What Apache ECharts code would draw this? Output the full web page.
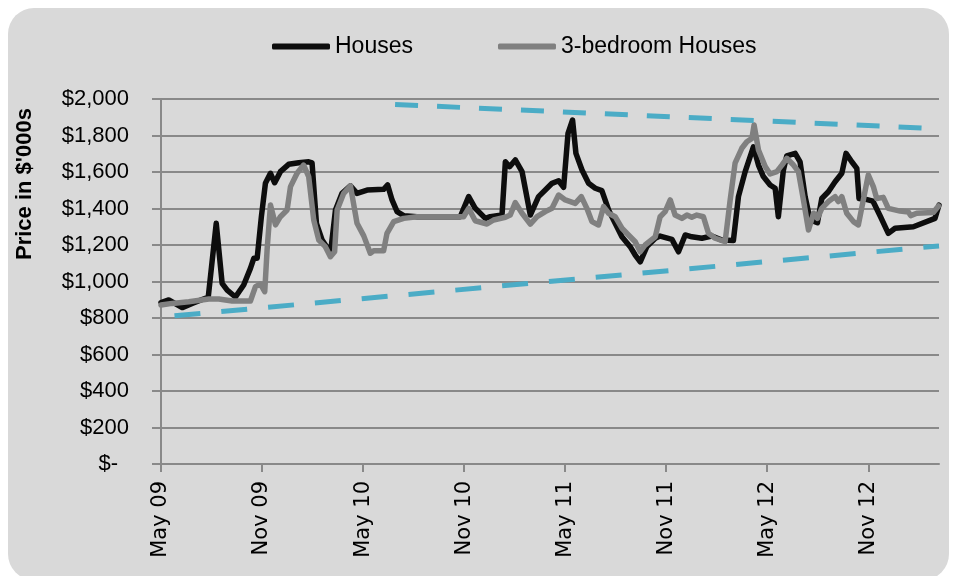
<!DOCTYPE html>
<html>
<head>
<meta charset="utf-8">
<script src="https://cdn.jsdelivr.net/npm/echarts@6/dist/echarts.min.js"></script>
<style>
  html, body { margin: 0; padding: 0; background: #fff; overflow: hidden; }
  #box { position: absolute; left: 8px; top: 8px; width: 941px; height: 572px; background: #d9d9d9; border-radius: 26px; }
  #chart { position: absolute; left: 0; top: 0; width: 957px; height: 576px; }
</style>
</head>
<body>
<div id="box"></div>
<div id="chart"></div>
<script>
// x values are months since May 2009
const tickMonths = [0, 6, 12, 18, 24, 30, 36, 42]
const tickLabels = ['May 09', 'Nov 09', 'May 10', 'Nov 10', 'May 11', 'Nov 11', 'May 12', 'Nov 12']

const housesMonth = [0, 0.46, 1.26, 1.85, 2.64, 2.80, 3.28, 3.63, 3.93, 4.42, 4.91, 5.31, 5.51, 5.71, 5.96, 6.20, 6.50, 6.75, 7.09, 7.58, 8.18, 8.77, 8.97, 9.23, 9.57, 9.96, 10.06, 10.36, 10.75, 11.25, 11.64, 12.24, 13.22, 13.46, 13.72, 14.02, 14.41, 15.20, 17.77, 18.27, 18.66, 19.26, 19.55, 20.25, 20.45, 20.70, 21.04, 21.44, 21.93, 22.42, 22.82, 23.22, 23.61, 23.91, 24.17, 24.44, 24.64, 25.00, 25.39, 25.79, 26.18, 26.58, 26.97, 27.37, 27.86, 28.16, 28.46, 28.85, 29.35, 29.64, 30.34, 30.73, 31.13, 31.52, 32.12, 32.71, 33.31, 33.99, 34.29, 34.69, 35.18, 35.48, 35.77, 36.17, 36.47, 36.66, 36.96, 37.16, 37.66, 37.95, 38.25, 38.55, 38.98, 39.24, 39.63, 40.03, 40.43, 40.68, 41.02, 41.32, 41.45, 41.87, 42.28, 42.70, 43.19, 43.59, 44.68, 45.96, 46.2]
const housesPrice = [885, 899, 857, 880, 908, 910, 1319, 990, 953, 915, 981, 1072, 1127, 1127, 1355, 1538, 1593, 1541, 1602, 1642, 1651, 1656, 1650, 1319, 1227, 1173, 1150, 1392, 1483, 1524, 1483, 1501, 1505, 1529, 1447, 1383, 1361, 1355, 1355, 1465, 1401, 1346, 1355, 1364, 1656, 1629, 1666, 1602, 1364, 1465, 1501, 1538, 1552, 1516, 1812, 1885, 1702, 1611, 1538, 1511, 1498, 1392, 1319, 1245, 1191, 1145, 1108, 1191, 1237, 1249, 1231, 1163, 1255, 1245, 1237, 1249, 1227, 1224, 1465, 1602, 1738, 1638, 1575, 1529, 1511, 1355, 1611, 1688, 1702, 1656, 1465, 1337, 1322, 1455, 1492, 1547, 1593, 1702, 1656, 1620, 1455, 1450, 1440, 1360, 1264, 1292, 1300, 1346, 1419]

const threeBedMonth = [0, 0.66, 1.65, 2.84, 3.43, 4.23, 5.31, 5.61, 5.91, 6.16, 6.30, 6.50, 6.80, 7.09, 7.49, 7.69, 8.08, 8.47, 8.77, 9.07, 9.37, 9.76, 10.06, 10.31, 10.46, 10.85, 11.25, 11.64, 12.04, 12.43, 12.63, 13.22, 13.42, 13.82, 14.41, 15.20, 17.97, 18.27, 18.66, 19.36, 19.75, 20.45, 20.74, 21.04, 21.44, 21.93, 22.33, 22.82, 23.22, 23.61, 24.01, 24.60, 24.96, 25.29, 25.59, 25.98, 26.28, 26.58, 26.97, 27.37, 27.76, 28.16, 28.46, 28.75, 29.35, 29.64, 29.94, 30.24, 30.53, 30.93, 31.23, 31.52, 31.82, 32.21, 32.51, 32.91, 33.50, 33.80, 34.09, 34.49, 34.79, 35.09, 35.22, 35.48, 35.88, 36.17, 36.57, 36.87, 37.16, 37.56, 37.85, 38.15, 38.45, 38.75, 38.98, 39.24, 39.63, 40.03, 40.22, 40.43, 40.72, 41.12, 41.41, 42.00, 42.30, 42.50, 42.89, 43.19, 43.89, 44.38, 44.52, 44.88, 45.86, 46.17]
const threeBedPrice = [871, 880, 889, 904, 904, 893, 893, 972, 986, 944, 1173, 1419, 1310, 1355, 1392, 1520, 1593, 1638, 1575, 1337, 1227, 1191, 1136, 1163, 1392, 1483, 1524, 1319, 1250, 1155, 1168, 1168, 1264, 1328, 1346, 1355, 1355, 1401, 1333, 1315, 1337, 1352, 1364, 1432, 1374, 1315, 1355, 1383, 1401, 1474, 1447, 1428, 1465, 1401, 1328, 1310, 1410, 1374, 1355, 1292, 1255, 1218, 1163, 1200, 1245, 1355, 1383, 1447, 1364, 1346, 1364, 1352, 1364, 1355, 1264, 1237, 1218, 1447, 1648, 1730, 1766, 1784, 1858, 1721, 1630, 1589, 1602, 1638, 1675, 1638, 1602, 1447, 1282, 1374, 1346, 1401, 1438, 1465, 1438, 1465, 1374, 1328, 1310, 1584, 1520, 1455, 1461, 1401, 1386, 1381, 1361, 1374, 1378, 1414]

// dashed trend lines (start / end)
const lowerTrendMonth = [0.8, 46.2]
const lowerTrendPrice = [812, 1195]
const upperTrendMonth = [13.9, 46.2]
const upperTrendPrice = [1970, 1837]

const zip = (xs, ys) => xs.map((x, i) => [x, ys[i]])

const myChart = echarts.init(document.getElementById('chart'))

const option = {
  backgroundColor: 'transparent',
  animation: false,
  legend: {
    left: 272,
    top: 35,
    padding: 0,
    itemWidth: 58,
    itemHeight: 6,
    itemGap: 85,
    icon: 'roundRect',
    data: ['Houses', '3-bedroom Houses'],
    textStyle: { fontFamily: 'Liberation Sans', fontSize: 23, color: '#000' },
  },
  grid: { left: 161, right: 18, top: 99, bottom: 112 },
  graphic: [
    {
      type: 'text',
      left: 14,
      top: 108,
      rotation: Math.PI / 2,
      style: {
        text: "Price in $'000s",
        font: 'bold 22px "Liberation Sans"',
        fill: '#000',
      },
    },
  ],
  xAxis: {
    type: 'value',
    min: 0,
    max: 46.2,
    splitLine: { show: false },
    axisLine: { lineStyle: { color: '#898989', width: 2 } },
    axisTick: { customValues: tickMonths, length: 8, lineStyle: { color: '#898989', width: 2 } },
    axisLabel: {
      customValues: tickMonths,
      rotate: 90,
      margin: 17,
      fontFamily: 'DejaVu Sans',
      fontSize: 21,
      color: '#000',
      formatter: (v) => tickLabels[tickMonths.indexOf(Math.round(v))] || '',
    },
  },
  yAxis: {
    type: 'value',
    min: 0,
    max: 2000,
    interval: 200,
    axisLine: { show: true, lineStyle: { color: '#898989', width: 2 } },
    axisTick: { show: true, length: 9, lineStyle: { color: '#898989', width: 2 } },
    splitLine: { lineStyle: { color: '#898989', width: 2 } },
    axisLabel: {
      margin: 32,
      fontFamily: 'Liberation Sans',
      fontSize: 22,
      color: '#000',
      formatter: (v) => (v === 0 ? '{z|$-}' : '$' + v.toLocaleString('en-US')),
      rich: {
        z: { fontFamily: 'Liberation Sans', fontSize: 22, color: '#000', padding: [0, 11, 0, 0] },
      },
    },
  },
  series: [
    {
      name: 'Houses',
      type: 'line',
      symbol: 'none',
      color: '#0d0d0d',
      lineStyle: { width: 5.5, color: '#0d0d0d', join: 'round', cap: 'round' },
      data: zip(housesMonth, housesPrice),
    },
    {
      name: '3-bedroom Houses',
      type: 'line',
      symbol: 'none',
      color: '#808080',
      lineStyle: { width: 5.5, color: '#808080', join: 'round', cap: 'round' },
      data: zip(threeBedMonth, threeBedPrice),
    },
    {
      name: 'lowerTrend',
      type: 'line',
      symbol: 'none',
      lineStyle: { width: 5, color: '#4bacc6', type: [26, 21] },
      data: zip(lowerTrendMonth, lowerTrendPrice),
    },
    {
      name: 'upperTrend',
      type: 'line',
      symbol: 'none',
      lineStyle: { width: 5, color: '#4bacc6', type: [23, 19] },
      data: zip(upperTrendMonth, upperTrendPrice),
    },
  ],
}

myChart.setOption(option)
</script>
</body>
</html>
